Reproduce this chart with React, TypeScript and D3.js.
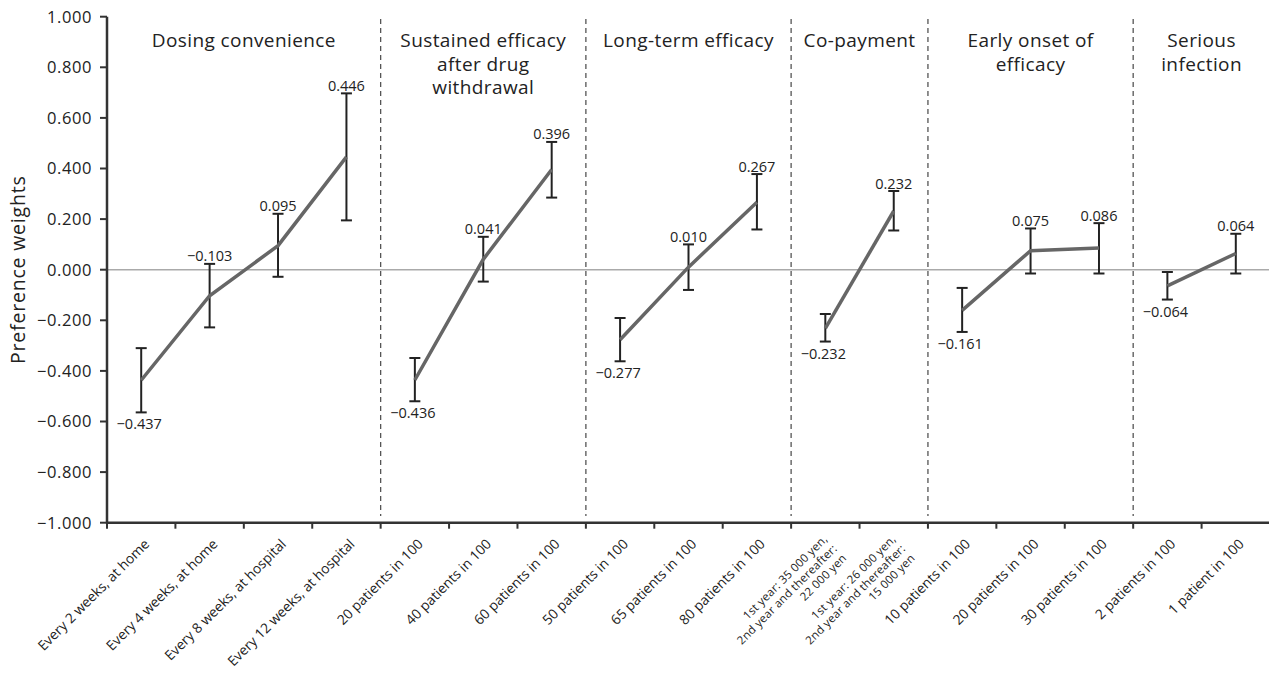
import React from "react";
import * as d3 from "d3";

const groupTitles: string[][] = [
  ["Dosing convenience"],
  ["Sustained efficacy", "after drug", "withdrawal"],
  ["Long-term efficacy"],
  ["Co-payment"],
  ["Early onset of", "efficacy"],
  ["Serious", "infection"],
];
const groupSizes = [4, 3, 3, 2, 3, 2];

const categories: string[][] = [
  ["Every 2 weeks, at home"],
  ["Every 4 weeks, at home"],
  ["Every 8 weeks, at hospital"],
  ["Every 12 weeks, at hospital"],
  ["20 patients in 100"],
  ["40 patients in 100"],
  ["60 patients in 100"],
  ["50 patients in 100"],
  ["65 patients in 100"],
  ["80 patients in 100"],
  ["1st year: 35 000 yen,", "2nd year and thereafter:", "22 000 yen"],
  ["1st year: 26 000 yen,", "2nd year and thereafter:", "15 000 yen"],
  ["10 patients in 100"],
  ["20 patients in 100"],
  ["30 patients in 100"],
  ["2 patients in 100"],
  ["1 patient in 100"],
];

const weights = [-0.437, -0.103, 0.095, 0.446, -0.436, 0.041, 0.396, -0.277, 0.010, 0.267, -0.232, 0.232, -0.161, 0.075, 0.086, -0.064, 0.064];
const lowerCI = [-0.564, -0.228, -0.028, 0.195, -0.520, -0.047, 0.285, -0.362, -0.080, 0.159, -0.284, 0.155, -0.246, -0.015, -0.015, -0.118, -0.015];
const upperCI = [-0.310, 0.023, 0.221, 0.697, -0.349, 0.130, 0.505, -0.191, 0.100, 0.378, -0.175, 0.311, -0.072, 0.163, 0.184, -0.009, 0.142];

const yTicks = [1, 0.8, 0.6, 0.4, 0.2, 0, -0.2, -0.4, -0.6, -0.8, -1];

const W = 1269;
const H = 674;
const FONT = "'Open Sans', 'Noto Sans', sans-serif";

function fmt(v: number) {
  const s = Math.abs(v).toFixed(3);
  return v < 0 ? "\u2212" + s : s;
}

export default function App() {
  const idx = categories.map((_, i) => i);
  const x = d3.scaleBand<number>().domain(idx).range([107, 1270]).padding(0);
  const y = d3.scaleLinear().domain([-1, 1]).range([522.7, 16.7]);
  const cx = (i: number) => (x(i) as number) + x.bandwidth() / 2;

  const starts: number[] = [];
  let acc = 0;
  groupSizes.forEach((s) => {
    starts.push(acc);
    acc += s;
  });

  const line = d3
    .line<number>()
    .x((i) => cx(i))
    .y((i) => y(weights[i]));

  const axisColor = "#333";
  const textColor = "#222";

  return (
    <svg
      width={W}
      height={H}
      style={{ position: "absolute", left: 0, top: 0, display: "block", background: "#fff" }}
      fontFamily={FONT}
    >
      {/* zero line */}
      <line x1={107} x2={W} y1={y(0)} y2={y(0)} stroke="#aaa" strokeWidth={1.5} />

      {/* group separators */}
      {starts.slice(1).map((s) => (
        <line
          key={"sep" + s}
          x1={x(s)}
          x2={x(s)}
          y1={19}
          y2={516}
          stroke="#555"
          strokeWidth={1.3}
          strokeDasharray="5,4"
        />
      ))}

      {/* group titles */}
      {starts.map((s, gi) => {
        const x0 = x(s) as number;
        const x1 = (x(s + groupSizes[gi] - 1) as number) + x.bandwidth();
        const mid = (x0 + x1) / 2;
        return (
          <text
            key={"gt" + gi}
            x={mid}
            y={47}
            textAnchor="middle"
            fontSize={19}
            letterSpacing={0.4}
            fill={textColor}
          >
            {groupTitles[gi].map((t, li) => (
              <tspan key={li} x={mid} y={47 + li * 23.5}>
                {t}
              </tspan>
            ))}
          </text>
        );
      })}

      {/* axes */}
      <line x1={107} x2={107} y1={y(1)} y2={y(-1) + 1} stroke={axisColor} strokeWidth={2.5} />
      <line x1={106} x2={W} y1={y(-1)} y2={y(-1)} stroke={axisColor} strokeWidth={2.5} />
      {yTicks.map((t) => (
        <g key={"yt" + t}>
          <line x1={100} x2={107} y1={y(t)} y2={y(t)} stroke={axisColor} strokeWidth={2} />
          <text
            x={92}
            y={y(t)}
            dy="0.36em"
            textAnchor="end"
            fontSize={16.5}
            letterSpacing={0.6}
            fill={textColor}
          >
            {fmt(t)}
          </text>
        </g>
      ))}
      <text
        transform={`translate(25, ${y(0)}) rotate(-90)`}
        textAnchor="middle"
        fontSize={19.5}
        letterSpacing={0.8}
        fill={textColor}
      >
        Preference weights
      </text>

      {/* x ticks */}
      {idx.map((i) => (
        <line
          key={"xt" + i}
          x1={x(i)}
          x2={x(i)}
          y1={y(-1)}
          y2={y(-1) + 6}
          stroke={axisColor}
          strokeWidth={2}
        />
      ))}

      {/* x labels */}
      {idx.map((i) => {
        const lines = categories[i];
        if (lines.length === 1) {
          return (
            <text
              key={"xl" + i}
              transform={`translate(${cx(i) + 2}, 538) rotate(-45)`}
              textAnchor="end"
              dy="0.71em"
              fontSize={13.8}
              fill={textColor}
            >
              {lines[0]}
            </text>
          );
        }
        return (
          <text
            key={"xl" + i}
            transform={`translate(${cx(i)}, 537) rotate(-45)`}
            textAnchor="end"
            fontSize={11.5}
            letterSpacing={0.2}
            fill={textColor}
          >
            {lines.map((t, li) => (
              <tspan key={li} x={0} y={4 + li * 13.5}>
                {t}
              </tspan>
            ))}
          </text>
        );
      })}

      {/* error bars */}
      {idx.map((i) => {
        const xc = cx(i);
        const yl = y(lowerCI[i]);
        const yu = y(upperCI[i]);
        return (
          <g key={"eb" + i} stroke="#222" strokeWidth={2}>
            <line x1={xc} x2={xc} y1={yu} y2={yl} />
            <line x1={xc - 5.5} x2={xc + 5.5} y1={yu} y2={yu} />
            <line x1={xc - 5.5} x2={xc + 5.5} y1={yl} y2={yl} />
          </g>
        );
      })}

      {/* lines per group */}
      {starts.map((s, gi) => (
        <path
          key={"ln" + gi}
          d={line(d3.range(s, s + groupSizes[gi])) || ""}
          fill="none"
          stroke="#666"
          strokeWidth={3.5}
        />
      ))}

      {/* value labels */}
      {idx.map((i) => {
        const first = starts.includes(i);
        return (
          <text
            key={"vl" + i}
            x={first ? cx(i) - 2 : cx(i)}
            y={first ? y(lowerCI[i]) + 17 : y(upperCI[i]) - 2.5}
            textAnchor="middle"
            fontSize={14.5}
            fill={textColor}
          >
            {fmt(weights[i])}
          </text>
        );
      })}
    </svg>
  );
}
